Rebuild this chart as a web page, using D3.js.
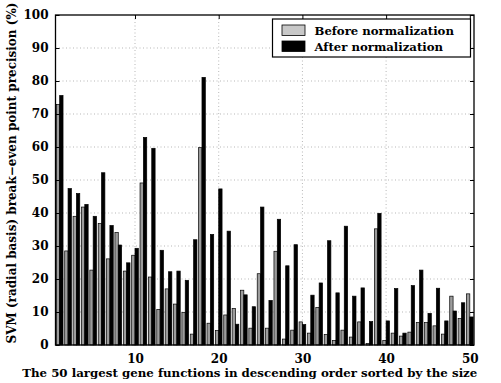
<!DOCTYPE html>
<html>
<head>
<meta charset="utf-8">
<script src="https://cdn.jsdelivr.net/npm/d3@7"></script>
<style>
  body { margin: 0; background: #fff; }
  text { font-family: "DejaVu Serif", serif; font-weight: bold; fill: #000; }
</style>
</head>
<body>
<svg id="chart" width="501" height="383"></svg>
<script>
const width = 501;
const height = 383;
const margin = {top: 15, left: 55.5, bottom: 38, right: 27};

// precision per gene function
const categories = d3.range(1, 51);
const beforeNorm = [72.9, 28.5, 39, 41.8, 22.7, 36.8, 26.1, 34.1, 22.4, 27.2,
  49.1, 20.6, 10.8, 17, 12.4, 9.9, 3.3, 59.8, 6.6, 4.4,
  9.1, 11.1, 16.6, 5.1, 21.6, 5.1, 28.4, 1.8, 4.5, 7,
  3.6, 11.4, 3.2, 1.4, 4.5, 2.4, 7, 0.5, 35.2, 1.4,
  3.6, 2.7, 3.9, 6.8, 6.8, 5.8, 3.3, 14.8, 8, 15.5];
const afterNorm = [75.6, 47.4, 45.9, 42.6, 39, 52.2, 36.2, 30.3, 24.9, 29.3,
  62.9, 59.6, 28.7, 22.2, 22.4, 19.6, 31.9, 81.1, 33.5, 47.3,
  34.5, 6.3, 15.2, 11.6, 41.8, 13.5, 38.1, 24, 30.4, 6.2,
  15.1, 18.8, 31.6, 15.8, 36, 14.8, 17.3, 7.1, 39.9, 7.3,
  17.1, 3.6, 18, 22.7, 9.6, 17.2, 7.3, 10.3, 12.8, 8.5];
const seriesNames = ['Before normalization', 'After normalization'];
const seriesColours = ['#c8c8c8', '#000'];
const barColours = ['#9c9c9c', '#000']; // thin bars read darker than the legend swatch
const xTicks = [10, 20, 30, 40, 50];
const yTicks = d3.range(0, 101, 10);

const plotWidth = width - (margin.left + margin.right);
const plotHeight = height - (margin.top + margin.bottom);

const svg = d3.select('#chart');
const plot = svg.append('g')
  .attr('transform', `translate(${margin.left},${margin.top})`);

const xScale = d3.scaleLinear().domain([0.5, 50.5]).range([0, plotWidth]);
const yScale = d3.scaleLinear().domain([0, 100]).range([plotHeight, 0]);
const barW = 0.4; // in category units

// dotted grid
plot.selectAll('line.hgrid')
  .data(yTicks.slice(1, -1))
  .enter().append('line')
    .attr('class', 'hgrid')
    .attr('x1', 0).attr('x2', plotWidth)
    .attr('y1', d => yScale(d)).attr('y2', d => yScale(d))
    .attr('stroke', '#999').attr('stroke-width', 0.7)
    .attr('stroke-dasharray', '1,2.5');
plot.selectAll('line.vgrid')
  .data(xTicks.slice(0, -1))
  .enter().append('line')
    .attr('class', 'vgrid')
    .attr('x1', d => xScale(d)).attr('x2', d => xScale(d))
    .attr('y1', 0).attr('y2', plotHeight)
    .attr('stroke', '#999').attr('stroke-width', 0.7)
    .attr('stroke-dasharray', '1,2.5');

// bars
const series = [beforeNorm, afterNorm];
series.forEach((vals, s) => {
  plot.selectAll(`rect.s${s}`)
    .data(categories)
    .enter().append('rect')
      .attr('class', `s${s}`)
      .attr('x', d => xScale(d - barW + s * barW))
      .attr('width', xScale(barW) - xScale(0))
      .attr('y', (d, i) => yScale(vals[i]))
      .attr('height', (d, i) => plotHeight - yScale(vals[i]))
      .attr('fill', barColours[s])
      .attr('stroke', '#000')
      .attr('stroke-width', 0.7);
});

// axes, ticks inside on all four sides
const tickLen = 4;
plot.append('g')
  .attr('transform', `translate(0,${plotHeight})`)
  .call(d3.axisBottom(xScale).tickValues(xTicks).tickSizeInner(-tickLen).tickSizeOuter(0).tickPadding(9))
  .call(g => g.select('.domain').remove())
  .call(g => g.selectAll('text').style('font-size', '12px').attr('font-family', null));
plot.append('g')
  .call(d3.axisTop(xScale).tickValues(xTicks).tickSizeInner(-tickLen).tickSizeOuter(0).tickFormat(''))
  .call(g => g.select('.domain').remove());
plot.append('g')
  .call(d3.axisLeft(yScale).tickValues(yTicks).tickSizeInner(-tickLen).tickSizeOuter(0).tickPadding(7))
  .call(g => g.select('.domain').remove())
  .call(g => g.selectAll('text').style('font-size', '12px').attr('font-family', null));
plot.append('g')
  .attr('transform', `translate(${plotWidth},0)`)
  .call(d3.axisRight(yScale).tickValues(yTicks).tickSizeInner(-tickLen).tickSizeOuter(0).tickFormat(''))
  .call(g => g.select('.domain').remove());
plot.selectAll('.tick line').attr('stroke', '#000').attr('stroke-width', 1);

plot.append('rect')
  .attr('width', plotWidth).attr('height', plotHeight)
  .attr('fill', 'none').attr('stroke', '#000').attr('stroke-width', 1.3);

// axis titles
svg.append('text')
  .attr('x', margin.left + plotWidth / 2 - 15)
  .attr('y', 377)
  .attr('text-anchor', 'middle')
  .style('font-size', '11.8px')
  .text('The 50 largest gene functions in descending order sorted by the size');
svg.append('text')
  .attr('transform', `translate(16,${margin.top + plotHeight / 2 - 7}) rotate(-90)`)
  .attr('text-anchor', 'middle')
  .style('font-size', '12px')
  .text('SVM (radial basis) break\u2212even point precision (%)');

// legend
const legend = svg.append('g').attr('transform', 'translate(272.5,19)');
legend.append('rect')
  .attr('width', 198).attr('height', 38)
  .attr('fill', '#fff').attr('stroke', '#000').attr('stroke-width', 1.2);
legend.selectAll('rect.swatch')
  .data(seriesNames)
  .enter().append('rect')
    .attr('class', 'swatch')
    .attr('x', 9.5).attr('y', (d, i) => 6 + i * 16)
    .attr('width', 23).attr('height', 10.5)
    .attr('fill', (d, i) => seriesColours[i])
    .attr('stroke', '#000').attr('stroke-width', 0.8);
legend.selectAll('text')
  .data(seriesNames)
  .enter().append('text')
    .attr('x', 42).attr('y', (d, i) => 15.5 + i * 16)
    .style('font-size', '11.7px')
    .text(d => d);
</script>
</body>
</html>
